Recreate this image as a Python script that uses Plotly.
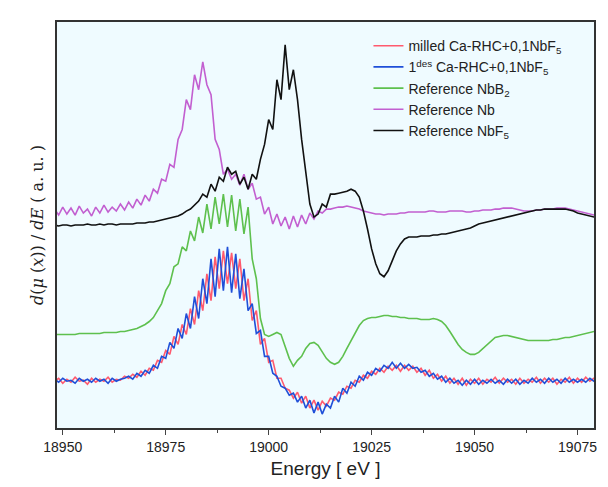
import plotly.graph_objects as go
import numpy as np

energy = list(range(18948, 19081))

milled = [47,50,45,49,46,51,47,48,44,50,46,49,47,51,46,49,48,52,
          50,54,51,57,53,60,58,68,66,78,
          74,92,84,104,94,120,104,138,118,155,
          128,172,140,178,145,176,140,170,128,150,
          108,118,84,90,66,68,50,50,40,38,
          30,36,25,32,20,28,18,27,22,30,
          28,36,34,42,40,48,46,53,50,57,
          54,60,56,62,58,63,57,63,58,62,
          56,60,53,58,50,54,47,52,45,50,
          44,50,43,49,45,50,44,49,46,51,
          45,50,46,49,44,50,45,49,46,51,
          45,50,46,50,44,49,46,51,45,50,
          46,51,47,50,48]
des1 = [49,46,50,47,48,45,50,47,49,46,50,47,49,45,50,47,49,50,
        52,49,55,52,58,55,63,60,72,70,
        86,80,100,90,115,100,132,110,150,125,
        170,132,180,138,182,136,175,130,160,118,
        125,95,98,72,72,55,52,42,40,33,
        35,26,32,20,28,15,26,14,24,20,
        32,26,40,35,46,42,52,48,56,53,
        60,57,63,60,66,60,65,60,64,60,
        61,56,58,52,55,49,52,46,50,45,
        48,43,48,44,49,44,48,45,49,45,
        48,44,49,45,49,44,48,45,50,46,
        49,45,50,46,49,45,50,46,49,46,
        49,46,50,47,49]
nbb2 = [94,94,94,94,94,94,95,95,95,95,95,95,96,96,96,96,97,97,
        98,99,100,102,104,107,111,118,125,138,
        145,162,165,182,178,198,188,212,196,225,
        200,232,205,235,202,234,198,230,195,222,
        170,150,110,94,92,94,96,94,82,70,
        62,68,72,80,85,86,83,76,70,66,
        64,66,72,80,88,96,103,108,110,111,
        111,112,113,113,112,112,111,111,110,110,
        110,109,109,109,110,109,107,103,97,90,
        84,79,76,74,74,76,80,84,88,91,
        92,93,93,92,91,90,89,88,88,88,
        88,88,88,89,89,90,91,91,92,93,
        94,95,96,97,98]
nb = [220,214,222,215,221,214,223,216,220,213,222,216,224,217,222,218,225,219,
      227,221,230,224,234,228,240,236,250,248,
      265,262,290,300,330,320,355,340,368,345,
      335,290,280,255,260,250,255,244,255,240,
      246,230,232,215,222,205,215,203,212,200,
      213,202,214,205,216,210,218,216,220,220,
      221,222,222,223,222,221,220,218,217,216,
      215,215,214,215,215,215,216,216,217,217,
      217,217,217,218,218,217,217,217,218,218,
      218,218,217,217,218,218,219,219,219,220,
      220,221,221,221,220,219,218,218,218,219,
      219,220,220,220,221,221,221,220,219,218,
      217,216,215,214,213]
nbf5 = [204,203,204,204,203,204,204,204,205,204,204,205,204,205,205,204,205,205,
        205,205,206,206,206,207,207,208,209,210,
        211,212,213,215,218,220,224,228,235,232,
        245,238,252,248,262,255,258,245,252,240,
        255,250,270,285,310,300,350,330,385,340,
        360,330,290,260,225,212,215,225,222,235,
        235,236,237,238,240,238,232,218,200,180,
        165,155,152,158,168,178,185,190,192,192,
        192,193,193,193,194,194,195,195,196,197,
        198,199,200,201,203,205,206,207,208,209,
        210,211,212,213,214,215,216,217,218,219,
        219,220,220,220,220,220,220,219,218,216,
        215,214,213,212,211]

series = [
    ("milled Ca-RHC+0,1NbF<sub>5</sub>", milled, "#ff5a6e"),
    ("1<sup>des</sup> Ca-RHC+0,1NbF<sub>5</sub>", des1, "#1f4fd8"),
    ("Reference NbB<sub>2</sub>", nbb2, "#5ec04e"),
    ("Reference Nb", nb, "#c25fd0"),
    ("Reference NbF<sub>5</sub>", nbf5, "#111111"),
]

fig = go.Figure()
for name, vals, col in series:
    fig.add_trace(go.Scatter(x=energy, y=vals, mode="lines", name=name,
                             line=dict(color=col, width=1.6)))

fig.update_layout(
    width=608, height=487,
    margin=dict(l=49, r=22, t=12, b=67),
    paper_bgcolor="white", plot_bgcolor="#effbff",
    font=dict(family="Liberation Sans, Arial", color="#222"),
    showlegend=True,
    legend=dict(x=0.58, y=0.98, xanchor="left", yanchor="top",
                bgcolor="rgba(0,0,0,0)", font=dict(size=14), tracegroupgap=0),
    xaxis=dict(range=[18948.6, 19079], tickvals=[18950, 18975, 19000, 19025, 19050, 19075],
               tickformat="d",
               ticks="outside", ticklen=5, minor=dict(ticks="outside", ticklen=3, dtick=12.5),
               showgrid=False, zeroline=False, showline=True, linecolor="#333", linewidth=1.5,
               mirror=True, tickfont=dict(size=14),
               title=dict(text="Energy [ eV ]", font=dict(size=19), standoff=8)),
    yaxis=dict(range=[0, 408], showticklabels=False, ticks="", showgrid=False, zeroline=False,
               showline=True, linecolor="#333", linewidth=1.5, mirror=True,
               title=dict(text="<i>d</i>(<i>μ</i> (<i>x</i>)) / <i>dE</i> ( a. u. )",
                          font=dict(family="DejaVu Serif", size=16), standoff=8)),
)

fig.write_html("out.html")
